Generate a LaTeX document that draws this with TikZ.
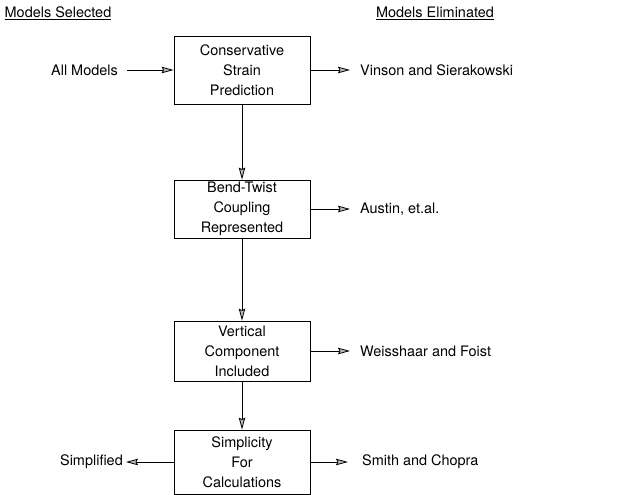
\documentclass[tikz,border=0pt]{standalone}
\usepackage{fontspec}
\setmainfont{TeX Gyre Heros}
\usetikzlibrary{arrows.meta}
\begin{document}
\begin{tikzpicture}[x=1bp, y=-1bp,
  every node/.style={font=\fontsize{14.5}{20}\selectfont},
  box/.style={draw, line width=0.8bp, minimum width=136bp, minimum height=64bp, align=center, inner sep=0pt},
  lbl/.style={anchor=west, inner sep=0pt},
  flow/.style={line width=0.8bp, -{Stealth[length=12bp, width=6.5bp, inset=1.5bp, fill=gray!55]}}]
\useasboundingbox (0,0) rectangle (624,495);
% column headings
\node (sel) at (58,13) {\underline{Models Selected}};
\node (elim) at (435,13) {\underline{Models Eliminated}};
% screening boxes
\node[box, minimum height=68bp] (cons) at (242,70) {Conservative\\Strain\\Prediction};
\node[box, minimum height=58bp] (bend) at (242,209) {Bend-Twist\\Coupling\\Represented};
\node[box, minimum height=60bp] (vert) at (242,351) {Vertical\\Component\\Included};
\node[box] (simp) at (242,462) {Simplicity\\For\\Calculations};
% side labels
\node[anchor=east, inner sep=0pt] (allm) at (118,70) {All Models};
\node[lbl] (vins) at (360,70) {Vinson and Sierakowski};
\node[lbl] (aust) at (360,209) {Austin, et.al.};
\node[lbl] (weis) at (360,351) {Weisshaar and Foist};
\node[lbl] (smch) at (362,462) {Smith and Chopra};
\node[anchor=east, inner sep=0pt] (simd) at (123,462) {Simplified};
% connectors
\draw[flow, shorten <=9bp] (allm) -- (cons);
\draw[flow, shorten >=10bp] (cons) -- (vins);
\draw[flow] (cons) -- (bend);
\draw[flow, shorten >=10bp] (bend) -- (aust);
\draw[flow] (bend) -- (vert);
\draw[flow, shorten >=10bp] (vert) -- (weis);
\draw[flow] (vert) -- (simp);
\draw[flow, shorten >=14bp] (simp) -- (smch);
\draw[flow, shorten >=3bp] (simp) -- (simd);
\end{tikzpicture}
\end{document}
